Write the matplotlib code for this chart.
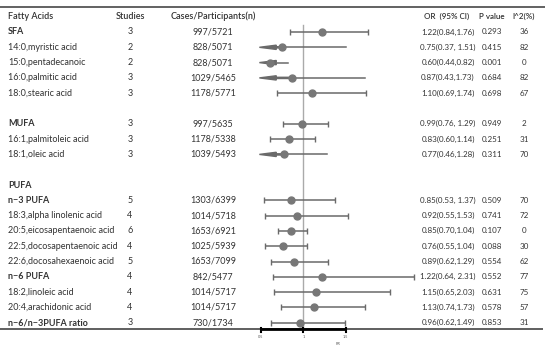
import matplotlib
matplotlib.use("Agg")
import matplotlib.pyplot as plt
import numpy as np

plt.rcParams['font.family'] = ['Lato', 'DejaVu Sans']

# table rows (None = spacer / group header)
names = ['SFA', '14:0,myristic acid', '15:0,pentadecanoic', '16:0,palmitic acid', '18:0,stearic acid',
         None,
         'MUFA', '16:1,palmitoleic acid', '18:1,oleic acid',
         None,
         'PUFA', 'n\u22123 PUFA', '18:3,alpha linolenic acid', '20:5,eicosapentaenoic acid',
         '22:5,docosapentaenoic acid', '22:6,docosahexaenoic acid', 'n\u22126 PUFA',
         '18:2,linoleic acid', '20:4,arachidonic acid', 'n\u22126/n\u22123PUFA ratio']
bold = ['SFA', 'MUFA', 'PUFA', 'n\u22123 PUFA', 'n\u22126 PUFA', 'n\u22126/n\u22123PUFA ratio']
studies = ['3', '2', '2', '3', '3', None, '3', '3', '3', None, None,
           '5', '4', '6', '4', '5', '4', '4', '4', '3']
cases = ['997/5721', '828/5071', '828/5071', '1029/5465', '1178/5771', None,
         '997/5635', '1178/5338', '1039/5493', None, None,
         '1303/6399', '1014/5718', '1653/6921', '1025/5939', '1653/7099',
         '842/5477', '1014/5717', '1014/5717', '730/1734']
odds = [1.22, 0.75, 0.60, 0.87, 1.10, None, 0.99, 0.83, 0.77, None, None,
        0.85, 0.92, 0.85, 0.76, 0.89, 1.22, 1.15, 1.13, 0.96]
lower = [0.84, 0.37, 0.44, 0.43, 0.69, None, 0.76, 0.60, 0.46, None, None,
         0.53, 0.55, 0.70, 0.55, 0.62, 0.64, 0.65, 0.74, 0.62]
upper = [1.76, 1.51, 0.82, 1.73, 1.74, None, 1.29, 1.14, 1.28, None, None,
         1.37, 1.53, 1.04, 1.04, 1.29, 2.31, 2.03, 1.73, 1.49]
or_text = ['1.22(0.84,1.76)', '0.75(0.37, 1.51)', '0.60(0.44,0.82)', '0.87(0.43,1.73)',
           '1.10(0.69,1.74)', None, '0.99(0.76, 1.29)', '0.83(0.60,1.14)', '0.77(0.46,1.28)',
           None, None, '0.85(0.53, 1.37)', '0.92(0.55,1.53)', '0.85(0.70,1.04)',
           '0.76(0.55,1.04)', '0.89(0.62,1.29)', '1.22(0.64, 2.31)', '1.15(0.65,2.03)',
           '1.13(0.74,1.73)', '0.96(0.62,1.49)']
pvals = ['0.293', '0.415', '0.001', '0.684', '0.698', None, '0.949', '0.251', '0.311',
         None, None, '0.509', '0.741', '0.107', '0.088', '0.554', '0.552', '0.631',
         '0.578', '0.853']
i2 = ['36', '82', '0', '82', '67', None, '2', '31', '70', None, None,
      '70', '72', '0', '30', '62', '77', '75', '57', '31']

W, H = 550, 349
fig = plt.figure(figsize=(5.5, 3.49), dpi=100)
ax = fig.add_axes([0, 0, 1, 1])
px_per_unit = 84.5
x_one = 303.3
ax.set_xlim(1 - x_one / px_per_unit, 1 + (W - x_one) / px_per_unit)
row_h = 15.3
y0 = 32
ax.set_ylim((H - y0) / row_h, -y0 / row_h)
ax.axis('off')

def fx(px):
    return 1 + (px - x_one) / px_per_unit

txt = '#333333'
fs = 6.5
fs_r = 5.8
clip = 0.48

# header
hdr = dict(color=txt, va='center', fontweight='semibold')
ax.text(fx(8), -1, 'Fatty Acids', ha='left', fontsize=fs, **hdr)
ax.text(fx(130), -1, 'Studies', ha='center', fontsize=fs, **hdr)
ax.text(fx(213), -1, 'Cases/Participants(n)', ha='center', fontsize=fs, **hdr)
ax.text(fx(424), -1, 'OR  (95% CI)', ha='left', fontsize=fs_r, **hdr)
ax.text(fx(492), -1, 'P value', ha='center', fontsize=fs_r, **hdr)
ax.text(fx(524), -1, 'I^2(%)', ha='center', fontsize=fs_r, **hdr)

# top / bottom rules
ax.plot([fx(0), fx(545)], [-1.63, -1.63], color='#555555', lw=1.3, solid_capstyle='butt')
ybot = (329 - y0) / row_h
ax.plot([fx(0), fx(543)], [ybot, ybot], color='#444444', lw=1.2, solid_capstyle='butt')

# reference line
ax.plot([1, 1], [(25 - y0) / row_h, ybot], color='#aaaaaa', lw=1, zorder=1)

line_c = '#6a6a6a'
dot_c = '#777777'
for k, name in enumerate(names):
    if name is None:
        continue
    w = 'bold' if name in bold else 'normal'
    ax.text(fx(8), k, name, ha='left', va='center', fontsize=fs, color=txt, fontweight=w)
    if studies[k] is None:
        continue
    ax.text(fx(130), k, studies[k], ha='center', va='center', fontsize=fs, color=txt)
    ax.text(fx(213), k, cases[k], ha='center', va='center', fontsize=fs, color=txt)
    ax.text(fx(448), k, or_text[k], ha='center', va='center', fontsize=fs_r, color=txt)
    ax.text(fx(492), k, pvals[k], ha='center', va='center', fontsize=fs_r, color=txt)
    ax.text(fx(524), k, i2[k], ha='center', va='center', fontsize=fs_r, color=txt)

    o, lo, hi = odds[k], lower[k], upper[k]
    if lo < clip:
        ax.plot([o, hi], [k, k], color=line_c, lw=1.1, zorder=2)
        ax.arrow(o, k, clip - o, 0, width=0.08, head_width=0.28, head_length=0.2,
                 length_includes_head=True, color=line_c, zorder=2)
    else:
        ax.errorbar(o, k, xerr=[[o - lo], [hi - o]], fmt='none', ecolor=line_c,
                    elinewidth=1.1, capsize=2, capthick=1, zorder=2)
    ax.plot(o, k, 'o', color=dot_c, ms=5, zorder=3)

# x axis
ax.plot([0.5, 1.5], [ybot, ybot], color='black', lw=2, solid_capstyle='butt', zorder=4)
for t, lab in zip([0.5, 1, 1.5], ['0.5', '1', '1.5']):
    ax.plot([t, t], [ybot - 0.05, ybot + 0.22], color='black', lw=1.5, zorder=4)
    ax.text(t, ybot + 0.5, lab, ha='center', va='center', fontsize=2.8, color='#555555')
ax.text(1.41, ybot + 0.95, 'RR', ha='center', va='center', fontsize=2.8, color='#555555')

fig.savefig('out.png', dpi=100)
